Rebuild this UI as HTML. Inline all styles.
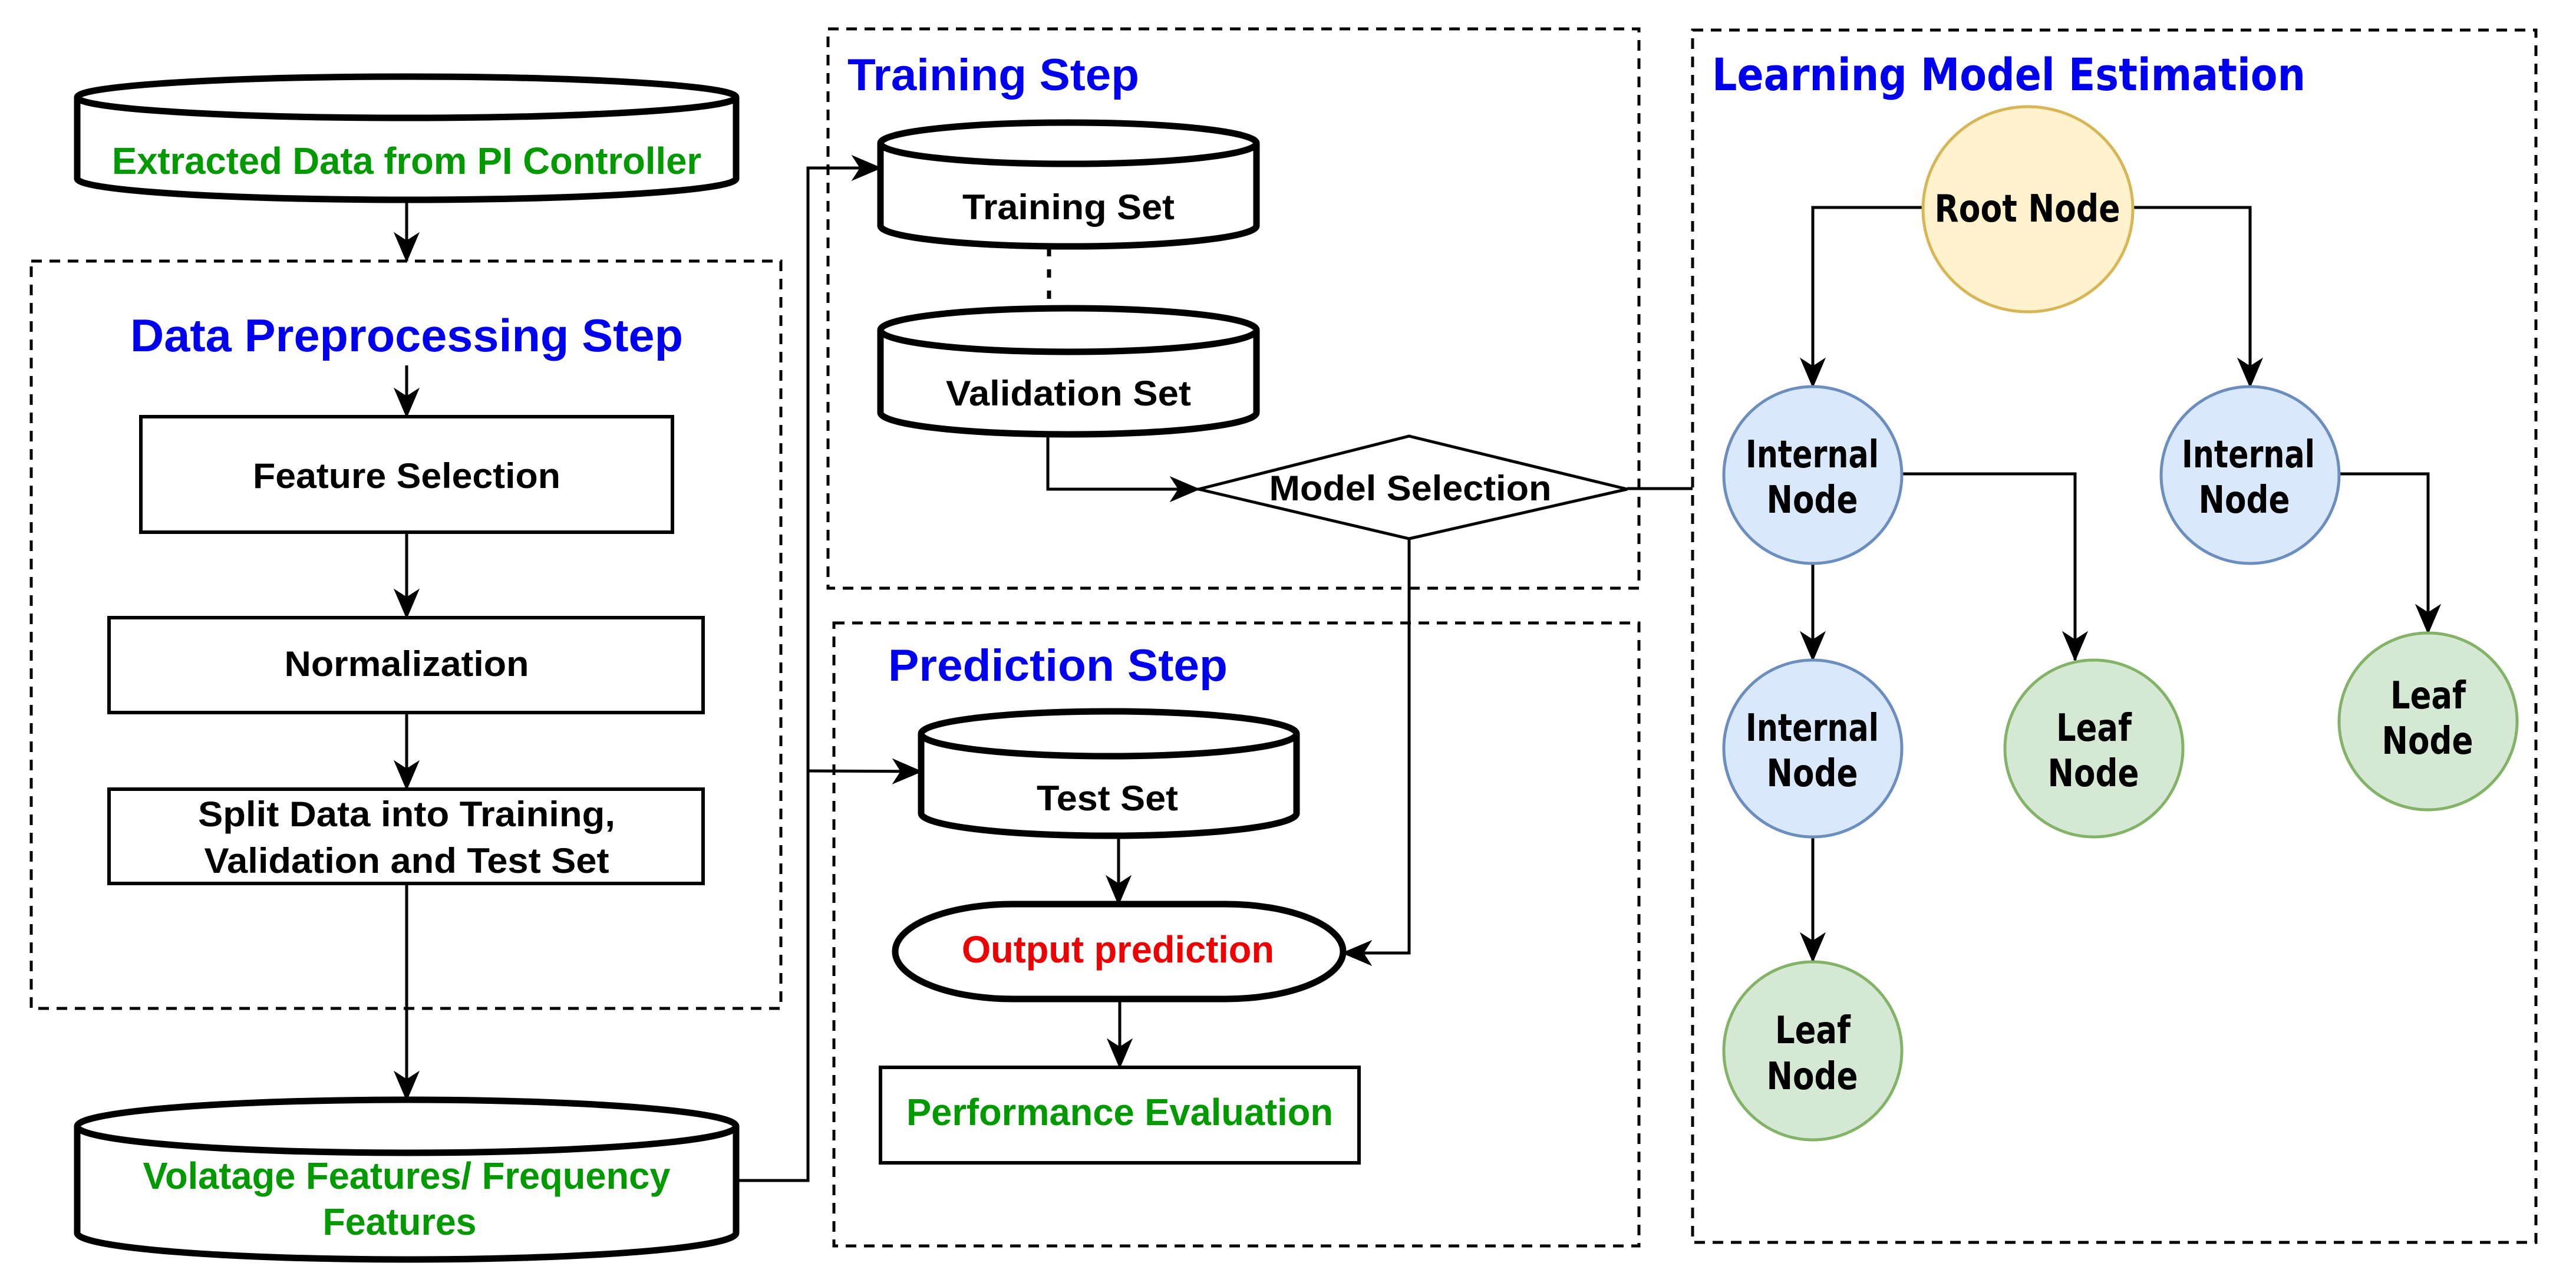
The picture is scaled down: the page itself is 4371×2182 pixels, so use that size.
<!DOCTYPE html>
<html><head><meta charset="utf-8"><style>
html,body{margin:0;padding:0;background:#fff;}
svg{display:block;}
.n{font-family:"Liberation Sans",Arial,sans-serif;font-weight:bold;}
.w{font-family:"DejaVu Sans","Liberation Sans",sans-serif;font-weight:bold;}
</style></head><body>
<svg width="4371" height="2182" viewBox="0 0 4371 2182" xmlns="http://www.w3.org/2000/svg">
<defs>
<marker id="a" markerUnits="userSpaceOnUse" viewBox="0 0 40 40" refX="38" refY="20" markerWidth="52" markerHeight="52" orient="auto">
<path d="M0,3 L40,20 L0,37 L11,20 Z" fill="#000"/>
</marker>
</defs>
<rect width="4371" height="2182" fill="#fff"/>

<g fill="none" stroke="#000" stroke-width="5" stroke-dasharray="18,13">
<rect x="53" y="443" width="1272" height="1268"/>
<rect x="1405" y="49" width="1376" height="949"/>
<rect x="1415" y="1057" width="1366" height="1057"/>
<rect x="2872" y="51" width="1431" height="2057"/>
</g>

<g fill="#fff" stroke="#000" stroke-width="11">
<path d="M131,165 A559,35 0 0 1 1249,165 L1249,303 A559,36 0 0 1 131,303 Z"/>
<path d="M131,165 A559,35 0 0 0 1249,165"/>
<path d="M131,1911 A559,45 0 0 1 1249,1911 L1249,2092 A559,45 0 0 1 131,2092 Z"/>
<path d="M131,1911 A559,45 0 0 0 1249,1911"/>
<path d="M1494,243 A319,35 0 0 1 2132,243 L2132,383 A319,35 0 0 1 1494,383 Z"/>
<path d="M1494,243 A319,35 0 0 0 2132,243"/>
<path d="M1494,560 A319,37 0 0 1 2132,560 L2132,700 A319,37 0 0 1 1494,700 Z"/>
<path d="M1494,560 A319,37 0 0 0 2132,560"/>
<path d="M1563,1245 A318,38 0 0 1 2200,1245 L2200,1380 A318,38 0 0 1 1563,1380 Z"/>
<path d="M1563,1245 A318,38 0 0 0 2200,1245"/>
<rect x="1519" y="1534" width="760" height="161" rx="200" ry="80.5"/>
</g>

<g fill="#fff" stroke="#000" stroke-width="6">
<rect x="239" y="707" width="902" height="196"/>
<rect x="185" y="1048" width="1008" height="161"/>
<rect x="185" y="1339" width="1008" height="160"/>
<rect x="1494" y="1811" width="812" height="162"/>
<polygon points="2034,830 2391,740 2761,830 2391,914" stroke-width="5"/>
</g>

<g fill="none" stroke="#000" stroke-width="5">
<line x1="690" y1="344" x2="690" y2="443" marker-end="url(#a)"/>
<line x1="690" y1="620" x2="690" y2="707" marker-end="url(#a)"/>
<line x1="690" y1="903" x2="690" y2="1048" marker-end="url(#a)"/>
<line x1="690" y1="1209" x2="690" y2="1339" marker-end="url(#a)"/>
<line x1="690" y1="1499" x2="690" y2="1866" marker-end="url(#a)"/>
<polyline points="1249,2003 1371,2003 1371,285 1494,285" marker-end="url(#a)"/>
<polyline points="1371,1308 1563,1309" marker-end="url(#a)"/>
<line x1="1780" y1="421" x2="1780" y2="523" stroke-width="7" stroke-dasharray="14,22"/>
<polyline points="1778,737 1778,830 2034,830" marker-end="url(#a)"/>
<line x1="2761" y1="829" x2="2872" y2="829"/>
<polyline points="2391,914 2391,1617 2279,1617" marker-end="url(#a)"/>
<line x1="1898" y1="1418" x2="1898" y2="1534" marker-end="url(#a)"/>
<line x1="1900" y1="1695" x2="1900" y2="1811" marker-end="url(#a)"/>
<polyline points="3263,352 3076,352 3076,656" marker-end="url(#a)"/>
<polyline points="3620,352 3818,352 3818,656" marker-end="url(#a)"/>
<polyline points="3228,804 3521,804 3521,1120" marker-end="url(#a)"/>
<polyline points="3969,804 4120,804 4120,1074" marker-end="url(#a)"/>
<line x1="3076" y1="956" x2="3076" y2="1120" marker-end="url(#a)"/>
<line x1="3076" y1="1419" x2="3076" y2="1631" marker-end="url(#a)"/>
</g>

<g stroke-width="5">
<ellipse cx="3441" cy="355" rx="178" ry="174" fill="#fff2cc" stroke="#d6b656"/>
<ellipse cx="3076" cy="806" rx="151" ry="150" fill="#dae8fc" stroke="#6c8ebf"/>
<ellipse cx="3818" cy="806" rx="151" ry="150" fill="#dae8fc" stroke="#6c8ebf"/>
<ellipse cx="3076" cy="1270" rx="151" ry="150" fill="#dae8fc" stroke="#6c8ebf"/>
<ellipse cx="3553" cy="1270" rx="151" ry="150" fill="#d5e8d4" stroke="#82b366"/>
<ellipse cx="4120" cy="1224" rx="151" ry="150" fill="#d5e8d4" stroke="#82b366"/>
<ellipse cx="3076" cy="1783" rx="151" ry="151" fill="#d5e8d4" stroke="#82b366"/>
</g>

<g class="n" text-anchor="middle">
<text x="690" y="295" font-size="64" fill="#009900" textLength="1000" lengthAdjust="spacingAndGlyphs">Extracted Data from PI Controller</text>
<text x="690" y="596" font-size="78" fill="#0000ee" textLength="938" lengthAdjust="spacingAndGlyphs">Data Preprocessing Step</text>
<text x="690" y="828" font-size="60" fill="#000" textLength="522" lengthAdjust="spacingAndGlyphs">Feature Selection</text>
<text x="690" y="1147" font-size="60" fill="#000" textLength="415" lengthAdjust="spacingAndGlyphs">Normalization</text>
<text x="690" y="1402" font-size="60" fill="#000" textLength="708" lengthAdjust="spacingAndGlyphs">Split Data into Training,</text>
<text x="690" y="1481" font-size="60" fill="#000" textLength="687" lengthAdjust="spacingAndGlyphs">Validation and Test Set</text>
<text x="690" y="2017" font-size="64" fill="#009900" textLength="895" lengthAdjust="spacingAndGlyphs">Volatage Features/ Frequency</text>
<text x="678" y="2095" font-size="64" fill="#009900" textLength="261" lengthAdjust="spacingAndGlyphs">Features</text>
<text x="1813" y="372" font-size="60" fill="#000" textLength="360" lengthAdjust="spacingAndGlyphs">Training Set</text>
<text x="1813" y="688" font-size="60" fill="#000" textLength="416" lengthAdjust="spacingAndGlyphs">Validation Set</text>
<text x="2393" y="849" font-size="60" fill="#000" textLength="479" lengthAdjust="spacingAndGlyphs">Model Selection</text>
<text x="1879" y="1375" font-size="60" fill="#000" textLength="240" lengthAdjust="spacingAndGlyphs">Test Set</text>
<text x="1897" y="1633" font-size="64" fill="#ee0000" textLength="530" lengthAdjust="spacingAndGlyphs">Output prediction</text>
<text x="1900" y="1909" font-size="64" fill="#009900" textLength="724" lengthAdjust="spacingAndGlyphs">Performance Evaluation</text>
</g>
<g class="n" fill="#0000ee">
<text x="1438" y="153" font-size="76" textLength="495" lengthAdjust="spacingAndGlyphs">Training Step</text>
<text x="1507" y="1155" font-size="76" textLength="576" lengthAdjust="spacingAndGlyphs">Prediction Step</text>
</g>
<text class="w" x="2905" y="153" font-size="76" fill="#0000ee" textLength="1007" lengthAdjust="spacingAndGlyphs">Learning Model Estimation</text>

<g class="w" text-anchor="middle" font-size="64" fill="#000">
<text x="3440" y="376" textLength="315" lengthAdjust="spacingAndGlyphs">Root Node</text>
<text x="3075" y="793" textLength="226" lengthAdjust="spacingAndGlyphs">Internal</text>
<text x="3075" y="870" textLength="155" lengthAdjust="spacingAndGlyphs">Node</text>
<text x="3815" y="793" textLength="226" lengthAdjust="spacingAndGlyphs">Internal</text>
<text x="3808" y="870" textLength="155" lengthAdjust="spacingAndGlyphs">Node</text>
<text x="3075" y="1257" textLength="226" lengthAdjust="spacingAndGlyphs">Internal</text>
<text x="3075" y="1334" textLength="155" lengthAdjust="spacingAndGlyphs">Node</text>
<text x="3553" y="1257" textLength="128" lengthAdjust="spacingAndGlyphs">Leaf</text>
<text x="3552" y="1334" textLength="155" lengthAdjust="spacingAndGlyphs">Node</text>
<text x="4120" y="1202" textLength="128" lengthAdjust="spacingAndGlyphs">Leaf</text>
<text x="4119" y="1279" textLength="155" lengthAdjust="spacingAndGlyphs">Node</text>
<text x="3076" y="1770" textLength="128" lengthAdjust="spacingAndGlyphs">Leaf</text>
<text x="3075" y="1848" textLength="155" lengthAdjust="spacingAndGlyphs">Node</text>
</g>
</svg>
</body></html>
